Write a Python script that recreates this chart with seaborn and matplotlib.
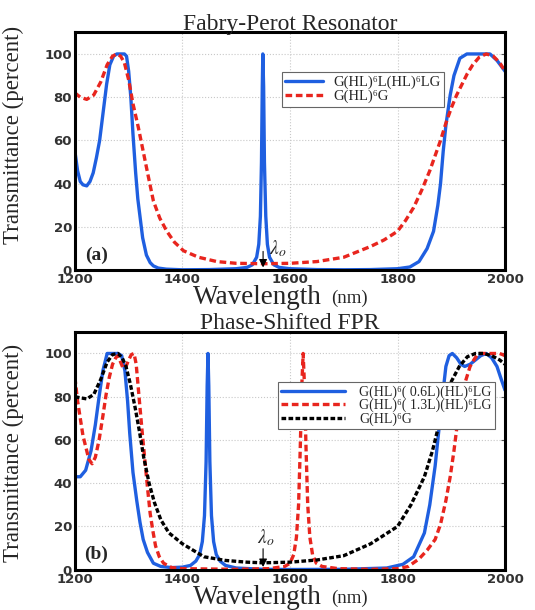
import matplotlib
matplotlib.use("Agg")
import matplotlib.pyplot as plt
import seaborn as sns

# ---- panel (a): Fabry-Perot resonator ----
wl_fpr = [1200, 1205, 1210, 1215, 1222, 1228, 1234, 1240, 1246, 1252, 1259, 1265, 1272,
          1278, 1285, 1292, 1296, 1300, 1304, 1308, 1313, 1317, 1321, 1326, 1333, 1340,
          1346, 1355, 1370, 1400, 1450, 1500, 1520, 1530, 1538, 1542, 1545, 1547, 1548.5,
          1549.5, 1551, 1552.5, 1555, 1558, 1562, 1570, 1580, 1600, 1650, 1700, 1750, 1800,
          1823, 1840, 1855, 1867, 1875, 1880, 1885, 1890, 1898, 1905, 1916, 1929, 1950,
          1972, 1985, 2000]
t_fpr = [55, 46, 41, 39.5, 39, 41, 45, 52, 60, 72, 86, 95, 99,
         100, 100, 100, 99, 92, 80, 63, 45, 33, 25, 15, 7, 3.5,
         2, 1, 0.5, 0.2, 0.3, 0.7, 1.3, 2.5, 6, 12, 25, 50, 85,
         100, 85, 50, 25, 12, 6, 2.5, 1.3, 0.7, 0.3, 0.2, 0.3, 0.7,
         1.5, 4, 10, 18, 30, 40, 55, 67, 81, 90, 98, 100, 100,
         100, 97, 92]

wl_mirror = [1200, 1210, 1222, 1235, 1248, 1260, 1270, 1278, 1285, 1292, 1300, 1308, 1318,
             1327, 1336, 1346, 1358, 1371, 1385, 1402, 1430, 1464, 1500, 1550, 1600, 1650,
             1700, 1750, 1775, 1800, 1815, 1830, 1845, 1860, 1870, 1880, 1890, 1900, 1910,
             1920, 1930, 1940, 1952, 1965, 1978, 1990, 2000]
t_mirror = [82, 80, 79, 81, 87, 95, 99, 100, 99, 96, 88, 77, 66,
            55, 44, 32, 24, 18, 13, 9, 6, 4, 3.2, 3, 3.2, 4,
            6, 11, 14, 18, 23, 29, 37, 46, 53, 60, 68, 75, 81,
            86, 91, 95, 98.5, 100, 99, 96, 92]

# ---- panel (b): phase-shifted FPR ----
wl_ps06 = [1200, 1210, 1220, 1230, 1238, 1245, 1252, 1260, 1270, 1280, 1287, 1293, 1298,
           1302, 1308, 1315, 1321, 1327, 1335, 1346, 1360, 1380, 1400, 1415, 1425, 1432,
           1437, 1441, 1444, 1446, 1447.5, 1449, 1451, 1454, 1458, 1463, 1470, 1480, 1500,
           1550, 1600, 1700, 1780, 1810, 1830, 1850, 1860, 1870, 1880, 1890, 1896, 1902,
           1910, 1918, 1925, 1935, 1945, 1955, 1965, 1975, 1985, 1993, 2000]
t_ps06 = [43, 43, 46, 55, 67, 80, 92, 100, 100, 100, 99, 92, 78,
          63, 45, 32, 22, 14, 8, 3, 1.5, 1, 1.2, 2, 4, 7,
          13, 25, 50, 85, 100, 85, 50, 25, 13, 7, 4, 2, 0.8,
          0.2, 0.1, 0.2, 0.8, 2.5, 6, 17, 30, 48, 72, 94, 99, 100,
          98, 95, 94, 95, 97, 99, 100, 98, 94, 88, 83]

wl_ps13 = [1200, 1205, 1210, 1215, 1220, 1226, 1232, 1238, 1245, 1252, 1258, 1264, 1270,
           1276, 1280, 1285, 1290, 1295, 1300, 1305, 1310, 1314, 1320, 1325, 1330, 1335,
           1340, 1345, 1350, 1357, 1365, 1380, 1400, 1500, 1560, 1590, 1600, 1607, 1612,
           1616, 1619, 1622, 1624.5, 1627, 1630, 1633, 1637, 1642, 1649, 1660, 1690, 1750,
           1800, 1820, 1840, 1855, 1870, 1880, 1890, 1898, 1905, 1910, 1915, 1920, 1925,
           1930, 1935, 1942, 1950, 1970, 1990, 2000]
t_ps13 = [89, 78, 70, 62, 57, 51, 49, 52, 60, 71, 81, 89, 95,
          98, 99, 96, 93, 94, 97, 99.5, 100, 95, 78, 64, 51, 38,
          26, 18, 11, 6, 3, 1, 0.5, 0.2, 0.5, 1.5, 3, 7, 15,
          30, 55, 85, 100, 85, 55, 30, 15, 7, 3, 1.5, 0.5, 0.2,
          0.5, 1.5, 5, 9, 14, 21, 32, 43, 55, 65, 74, 80, 86,
          90, 94, 97, 100, 100, 100, 99]

wl_ref = [1200, 1210, 1222, 1235, 1248, 1260, 1270, 1280, 1288, 1295, 1303, 1312, 1320,
          1328, 1338, 1348, 1360, 1375, 1400, 1440, 1480, 1520, 1550, 1600, 1650, 1700,
          1750, 1800, 1825, 1850, 1865, 1880, 1890, 1900, 1915, 1930, 1945, 1960, 1975,
          1990, 2000]
t_ref = [80, 79.5, 79, 81, 88, 96, 99.5, 100, 98, 94, 86, 75, 64,
         52, 40, 31, 23, 17, 12, 6, 4.3, 3.5, 3.2, 3.5, 4.5, 6.5,
         12, 20, 30, 43, 55, 70, 79, 87, 94, 98.5, 100, 100, 99,
         97, 95]

label_fpr = "G(HL)\u2076L(HL)\u2076LG"
label_mirror = "G(HL)\u2076G"
label_ps06 = "G(HL)\u2076( 0.6L)(HL)\u2076LG"
label_ps13 = "G(HL)\u2076( 1.3L)(HL)\u2076LG"

sns.set_style("whitegrid", {"grid.linestyle": ":", "grid.color": "#c8c8c8",
                            "axes.edgecolor": "black"})
plt.rcParams["mathtext.fontset"] = "stix"

serif = ["Liberation Serif", "DejaVu Serif"]
blue = "#1f5fe0"
red = "#e8251e"

fig = plt.figure(figsize=(5.35, 6.10), dpi=100)
ax_a = fig.add_axes([0.140, 0.557, 0.804, 0.390])
ax_b = fig.add_axes([0.140, 0.066, 0.804, 0.390])


def style_axes(ax, title, tag, lam_y, ylab_pos):
    ax.set_xlim(1200, 2000)
    ax.set_ylim(0, 110)
    ax.set_xticks([1200, 1400, 1600, 1800, 2000])
    ax.set_yticks([0, 20, 40, 60, 80, 100])
    ax.grid(True, linewidth=0.8)
    for sp in ax.spines.values():
        sp.set_linewidth(2.2)
        sp.set_color("black")
    ax.tick_params(direction="in", length=3, width=0.8, right=True, top=False, pad=2,
                   color="#555555")
    for lab in ax.get_xticklabels() + ax.get_yticklabels():
        lab.set_fontfamily("DejaVu Sans")
        lab.set_fontweight("bold")
        lab.set_fontsize(9.5)
        lab.set_color("#333333")
    ax.set_title(title, fontfamily=serif, fontsize=17, pad=2)
    ax.set_ylabel("Transmittance (percent)", fontfamily=serif, fontsize=16.5, labelpad=4)
    ax.yaxis.set_label_coords(-0.118, ylab_pos)
    ax.set_xlabel("")
    ax.text(0.274, -0.063, "Wavelength", transform=ax.transAxes, fontfamily=serif,
            fontsize=19.5, va="top", ha="left")
    ax.text(0.595, -0.082, "(nm)", transform=ax.transAxes, fontfamily=serif,
            fontsize=13.5, va="top", ha="left")
    ax.text(1240, 7, tag, fontfamily=serif, fontweight="bold", fontsize=14,
            ha="center", va="center")
    ax.annotate("", xy=(1550, 0), xytext=(1550, lam_y),
                arrowprops=dict(arrowstyle="-|>", color="black", lw=0.8,
                                mutation_scale=12))


def add_legend(ax, anchor, hlen, size, tpad):
    leg = ax.legend(loc="upper left", bbox_to_anchor=anchor, frameon=True,
                    fancybox=False, edgecolor="#666666", framealpha=1,
                    prop={"family": serif, "size": size}, handlelength=hlen,
                    borderpad=0.25, labelspacing=0.0, handletextpad=tpad,
                    borderaxespad=0)
    leg.get_frame().set_linewidth(0.8)


# panel (a)
sns.lineplot(x=wl_fpr, y=t_fpr, ax=ax_a, color=blue, lw=2.4, sort=False,
             label=label_fpr)
sns.lineplot(x=wl_mirror, y=t_mirror, ax=ax_a, color=red, lw=2.4, sort=False,
             label=label_mirror)
ax_a.lines[-1].set_dashes((2.0, 1.1))
style_axes(ax_a, "Fabry-Perot Resonator", "(a)", 10, 0.567)
ax_a.text(1561, 10, r"$\lambda_o$", fontsize=14, ha="left", va="center")
add_legend(ax_a, (0.481, 0.832), 2.6, 10.5, 0.7)

# panel (b)
sns.lineplot(x=wl_ps06, y=t_ps06, ax=ax_b, color=blue, lw=2.4, sort=False,
             label=label_ps06)
sns.lineplot(x=wl_ps13, y=t_ps13, ax=ax_b, color=red, lw=2.4, sort=False,
             label=label_ps13)
ax_b.lines[-1].set_dashes((2.0, 1.1))
sns.lineplot(x=wl_ref, y=t_ref, ax=ax_b, color="black", lw=2.4, sort=False,
             label=label_mirror)
ax_b.lines[-1].set_dashes((1.4, 0.7))
style_axes(ax_b, "Phase-Shifted FPR", "(b)", 11, 0.49)
ax_b.text(1555, 15, r"$\lambda_o$", fontsize=14, ha="center", va="center")
add_legend(ax_b, (0.472, 0.79), 4.6, 10, 1.0)

fig.savefig("out.png", dpi=100)
